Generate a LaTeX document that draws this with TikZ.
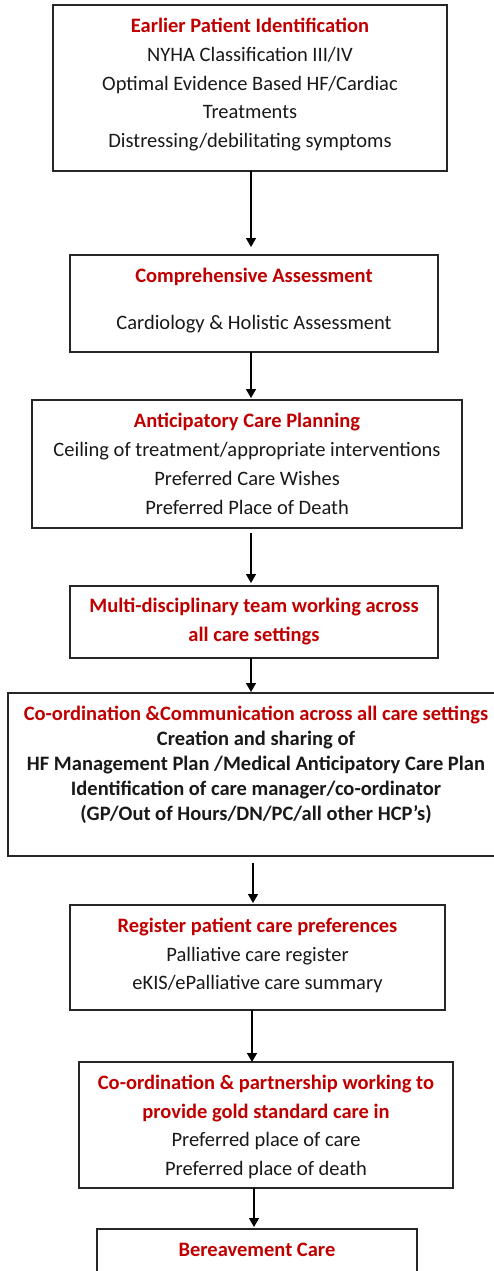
\documentclass[tikz,border=0pt]{standalone}
\usepackage{fontspec}
\setmainfont{Carlito}
\usetikzlibrary{arrows.meta}
\definecolor{tred}{HTML}{C00000}
\definecolor{bline}{HTML}{262626}
\newcommand\fsz{\fontsize{20.5}{28.8}\selectfont}
\newcommand\fszs{\fontsize{20.5}{25}\selectfont}
\newcommand\fl{\rule{0pt}{16pt}}
\newcommand\ttl[1]{{\bfseries\color{tred}#1}}
\begin{document}
\begin{tikzpicture}[x=1pt,y=-1pt,
  boxst/.style={draw=bline,line width=1.2pt,anchor=north west,inner sep=0pt,outer sep=0pt},
  txt/.style={align=center,inner sep=0pt,anchor=north,font=\fsz,text=black!90},
  arr/.style={line width=1.4pt,black,-{Triangle[length=9pt,width=10pt]}}]
\useasboundingbox (0,0) rectangle (494,1271);
\clip (0,0) rectangle (494,1271);
\fill[white] (0,0) rectangle (494,1271);
% boxes
\node[boxst,minimum width=394pt,minimum height=166pt] (b1) at (53,5) {};
\node[boxst,minimum width=368pt,minimum height=97pt] (b2) at (70,255) {};
\node[boxst,minimum width=430pt,minimum height=128pt] (b3) at (32,400) {};
\node[boxst,minimum width=368pt,minimum height=72pt] (b4) at (70,586) {};
\node[boxst,minimum width=496pt,minimum height=163pt] (b5) at (8,693) {};
\node[boxst,minimum width=375pt,minimum height=105pt] (b6) at (70,905) {};
\node[boxst,minimum width=374pt,minimum height=126pt] (b7) at (79,1062) {};
\node[boxst,minimum width=320pt,minimum height=90pt] (b8) at (97,1229) {};
% texts
\node[txt] (t1) at (250,16.3) {\fl\ttl{Earlier Patient Identification}\\NYHA Classification III/IV\\Optimal Evidence Based HF/Cardiac\\Treatments\\Distressing/debilitating symptoms};
\node[txt] (t2) at (254,266.3) {\fl\ttl{Comprehensive Assessment}\\[18.3pt]Cardiology \& Holistic Assessment};
\node[txt] (t3) at (247,411.5) {\fl\ttl{Anticipatory Care Planning}\\Ceiling of treatment/appropriate interventions\\Preferred Care Wishes\\Preferred Place of Death};
\node[txt] (t4) at (254,596) {\fl\ttl{Multi-disciplinary team working across}\\\ttl{all care settings}};
\node[txt,font=\fszs\bfseries] (t5) at (256,704) {\fl\ttl{Co-ordination \&Communication across all care settings}\\Creation and sharing of\\HF Management Plan /Medical Anticipatory Care Plan\\Identification of care manager/co-ordinator\\(GP/Out of Hours/DN/PC/all other HCP’s)};
\node[txt] (t6) at (257.5,916) {\fl\ttl{Register patient care preferences}\\Palliative care register\\eKIS/ePalliative care summary};
\node[txt] (t7) at (266,1073) {\fl\ttl{Co-ordination \& partnership working to}\\\ttl{provide gold standard care in}\\Preferred place of care\\Preferred place of death};
\node[txt] (t8) at (257,1240) {\fl\ttl{Bereavement Care}};
% arrows
\draw[arr,shorten >=8pt] ([xshift=1pt]b1.south) -- ([xshift=1pt]b1.south |- b2.north);
\draw[arr,shorten >=2pt] ([xshift=-3pt]b2.south) -- ([xshift=-3pt]b2.south |- b3.north);
\draw[arr,shorten <=5pt,shorten >=3pt] ([xshift=4pt]b3.south) -- ([xshift=4pt]b3.south |- b4.north);
\draw[arr,shorten >=1pt] ([xshift=-3pt]b4.south) -- ([xshift=-3pt]b4.south |- b5.north);
\draw[arr,shorten <=7pt,shorten >=2pt] ([xshift=-3pt]b5.south) -- ([xshift=-3pt]b5.south |- b6.north);
\draw[arr] ([xshift=-5.5pt]b6.south) -- ([xshift=-5.5pt]b6.south |- b7.north);
\draw[arr,shorten >=2pt] ([xshift=-12pt]b7.south) -- ([xshift=-12pt]b7.south |- b8.north);
\end{tikzpicture}
\end{document}
